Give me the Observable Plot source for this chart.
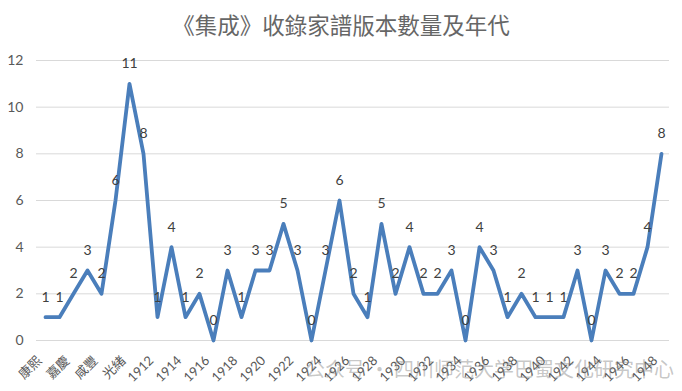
<!DOCTYPE html>
<html>
<head>
<meta charset="utf-8">
<script src="https://cdn.jsdelivr.net/npm/d3@7"></script>
<script src="https://cdn.jsdelivr.net/npm/@observablehq/plot@0.6"></script>
<style>
  body { margin: 0; background: #fff; }
  #wrap { position: relative; width: 682px; height: 391px; overflow: hidden; }
  #title { height: 45px; line-height: 48px; text-align: center; font-family: "Noto Sans CJK TC", sans-serif; font-size: 22.5px; color: #666; }
  #wm { position: absolute; left: 305px; top: 354px; font-family: "Noto Sans CJK SC", sans-serif; font-size: 20px; color: rgba(120,120,120,0.42); white-space: nowrap; }
  #chart svg { overflow: visible; }
</style>
</head>
<body>
<div id="wrap">
  <div id="title">《集成》收錄家譜版本數量及年代</div>
  <div id="chart"></div>
  <div id="wm">公众号 · 四川师范大学巴蜀文化研究中心</div>
</div>
<script>
const categories = ["康熙","乾隆","嘉慶","道光","咸豐","同治","光緒","宣統",
  "1912","1913","1914","1915","1916","1917","1918","1919","1920","1921","1922","1923","1924",
  "1925","1926","1927","1928","1929","1930","1931","1932","1933","1934","1935","1936","1937",
  "1938","1939","1940","1941","1942","1943","1944","1945","1946","1947","1948"];
const counts = [1,1,2,3,2,6,11,8,
  1,4,1,2,0,3,1,3,3,5,3,0,3,
  6,2,1,5,2,4,2,2,3,0,4,3,1,
  2,1,1,1,3,0,3,2,2,4,8];
const yTicks = [0,2,4,6,8,10,12];
const shownLabels = categories.filter((d, i) => i % 2 === 0);

const data = categories.map((c, i) => ({cat: c, value: counts[i]}));

const chart = Plot.plot({
  width: 682,
  height: 346,
  marginTop: 15,
  marginBottom: 51,
  marginLeft: 36,
  marginRight: 13,
  x: {type: "point", domain: categories, padding: 0.5, axis: null},
  y: {domain: [0, 12]},
  style: {fontFamily: "Lato, 'Noto Sans CJK TC', sans-serif", fontSize: "14px", color: "#595959", background: "#fff"},
  marks: [
    Plot.ruleY(yTicks, {stroke: "#d9d9d9", strokeWidth: 1}),
    Plot.axisY({ticks: yTicks, tickSize: 0, tickPadding: 13, label: null, fontSize: 14, fill: "#595959"}),
    Plot.text(shownLabels, {x: d => d, frameAnchor: "bottom", rotate: -45, textAnchor: "end", lineAnchor: "middle",
      dx: -6, dy: 18, fontSize: 13, fill: "#595959"}),
    Plot.line(data, {x: "cat", y: "value", stroke: "#4a7ebb", strokeWidth: 3.8, strokeLinejoin: "round"}),
    Plot.text(data, {x: "cat", y: "value", text: d => String(d.value), dy: -20, fill: "#404040", fontSize: 14})
  ]
});
document.getElementById("chart").appendChild(chart);
</script>
</body>
</html>
